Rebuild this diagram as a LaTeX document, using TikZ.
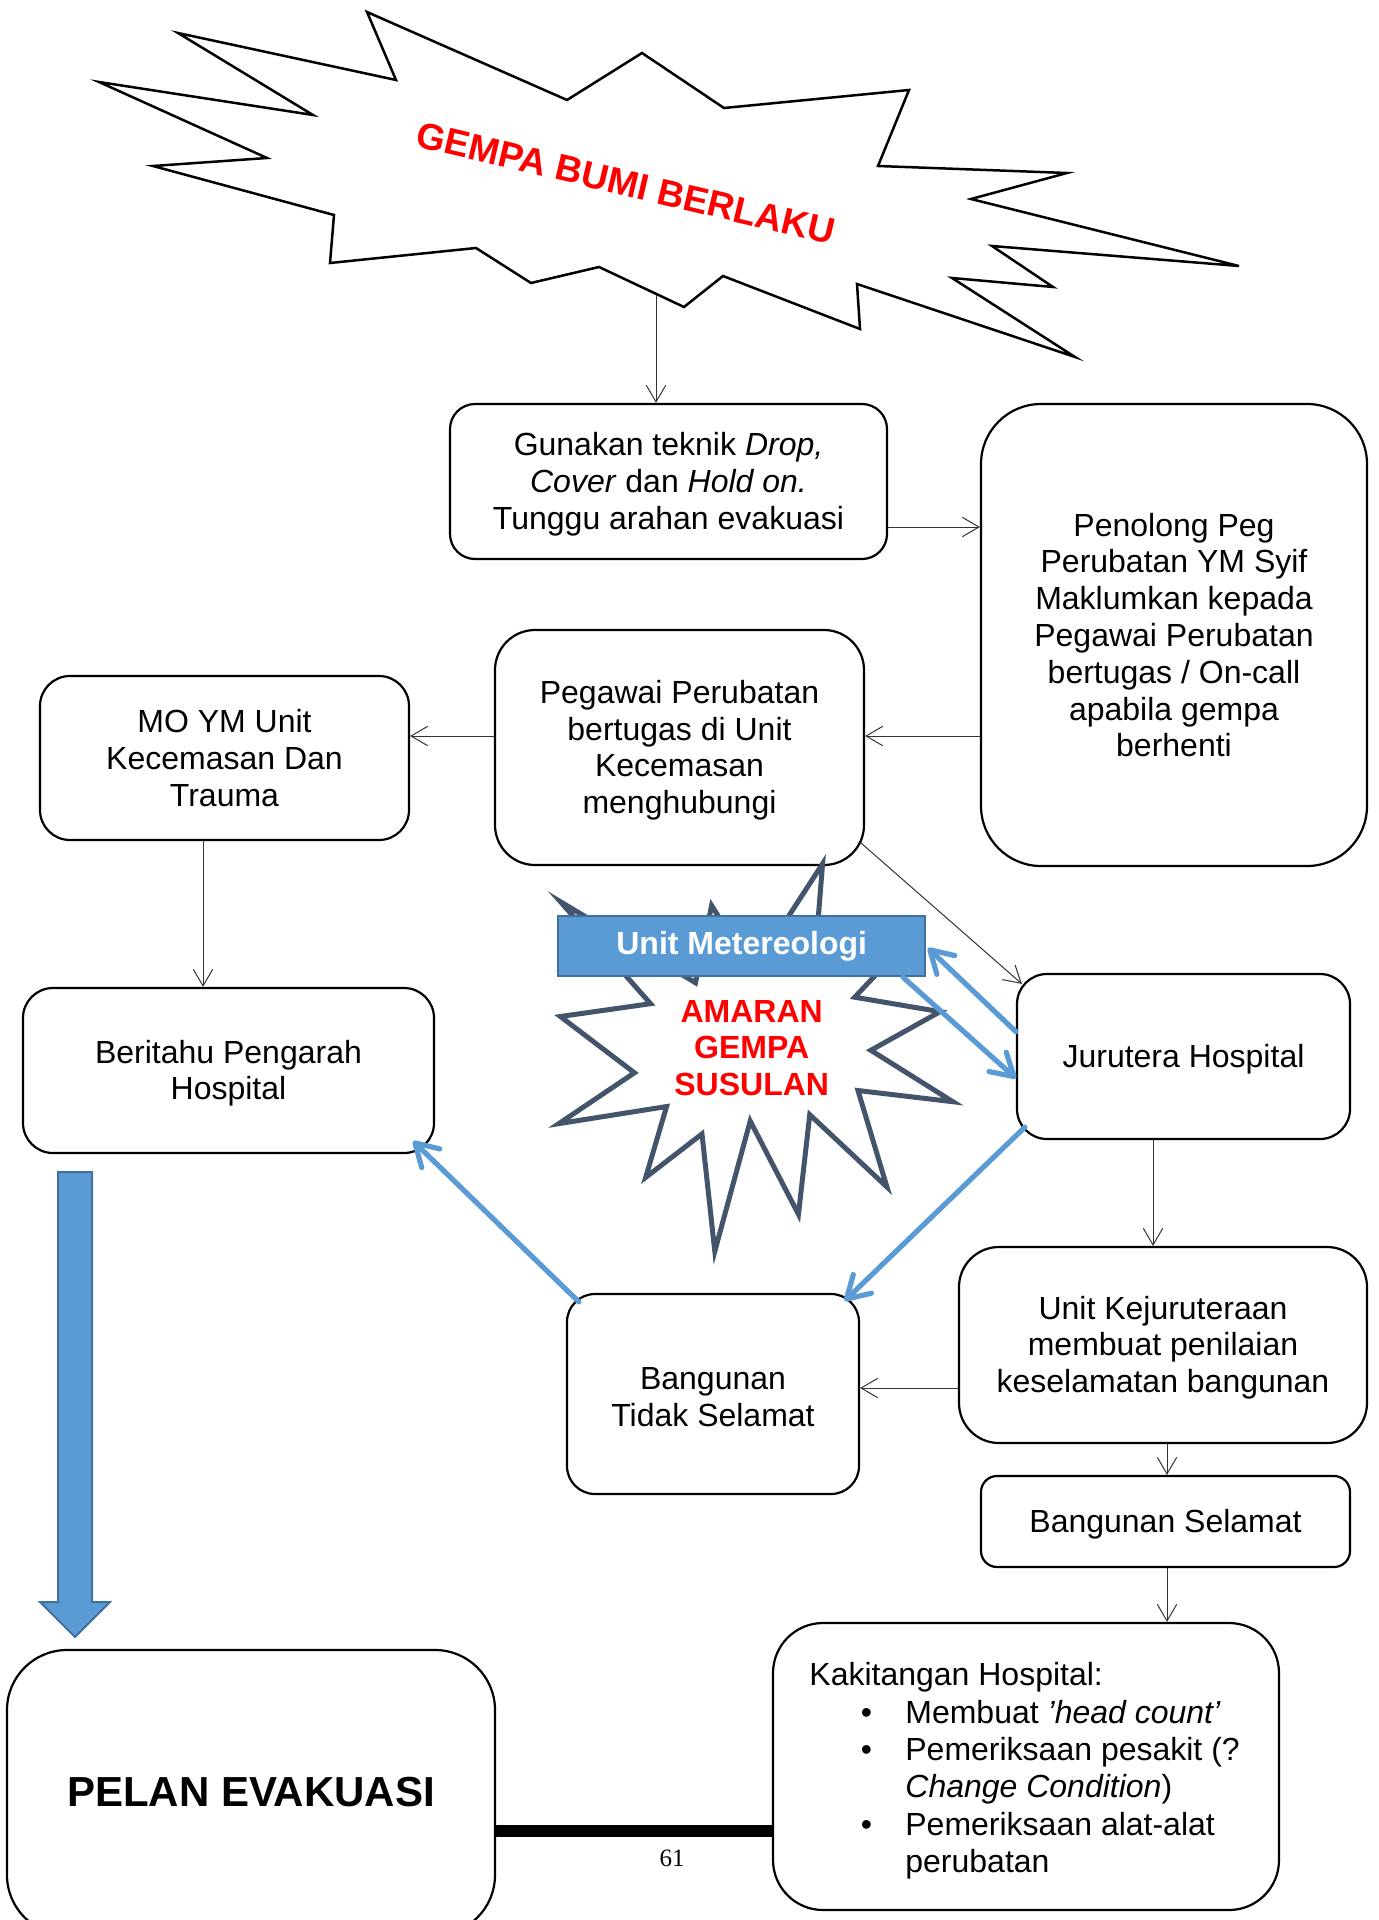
\documentclass[tikz,border=0pt]{standalone}
\usepackage{fontspec}
\setmainfont{Liberation Sans}
\newfontfamily\pagenumfont{Liberation Serif}
\usetikzlibrary{arrows.meta,calc}

\definecolor{accentblue}{HTML}{5B9BD5}
\definecolor{accentedge}{HTML}{41719C}
\definecolor{slateedge}{HTML}{44546A}
\definecolor{alertred}{HTML}{FF0000}

\newcommand\flowfont{\fontsize{16pt}{18.4pt}\selectfont}
% a taller first line sets the text slightly lower in its box
\newcommand\firstlift{\rule{0pt}{14.3pt}}

\tikzset{
  flowbox/.style={draw=black, line width=1.1pt, fill=white, align=center,
    font=\flowfont, inner sep=0pt},
  conn/.style={draw=black!80, line width=0.5pt,
    -{Straight Barb[length=8.3pt,width=9.7pt]}},
  bluelink/.style={draw=accentblue, line width=2.6pt, line cap=round,
    -{Straight Barb[length=11pt,width=13pt,round]}},
  alerttext/.style={text=alertred, font=\bfseries\fontsize{16pt}{18.3pt}\selectfont,
    align=center, inner sep=0pt},
}

\begin{document}
\begin{tikzpicture}[x=0.5pt,y=-0.5pt]
\useasboundingbox (0,0) rectangle (1378,1920);

% ---- earthquake burst -------------------------------------------------
\draw[line width=1.25pt, fill=white, line join=miter]
  (367,12) -- (396,80) -- (178,33) -- (313,115) -- (99,82) -- (267,158)
  -- (153,166) -- (334,215) -- (330,263) -- (476,248) -- (531,283)
  -- (599,267) -- (684,307) -- (723,276) -- (860,329) -- (857,284)
  -- (1075,357) -- (952,278) -- (1053,287) -- (992,246) -- (1239,266)
  -- (971,199) -- (1067,173) -- (878,166) -- (909,90) -- (724,108)
  -- (642,53) -- (567,100) -- cycle;
\node[text=alertred, font=\bfseries\fontsize{18.5pt}{22pt}\selectfont,
      rotate=-13.3, inner sep=0pt] (quaketitle) at (626,183) {GEMPA BUMI BERLAKU};
\coordinate (quakebase) at (656,295);

% ---- process boxes ----------------------------------------------------
\node[flowbox, rounded corners=12.5pt, minimum width=218.5pt, minimum height=77.5pt]
  (gunakan) at (668.5,481.5)
  {\firstlift Gunakan teknik \textit{Drop,}\\ \textit{Cover} dan \textit{Hold on.}\\ Tunggu arahan evakuasi};

\node[flowbox, rounded corners=30pt, minimum width=193pt, minimum height=231pt]
  (penolong) at (1174,635)
  {Penolong Peg\\ Perubatan YM Syif\\ Maklumkan kepada\\ Pegawai Perubatan\\
   bertugas / On-call\\ apabila gempa\\ berhenti};

\node[flowbox, rounded corners=20pt, minimum width=184.5pt, minimum height=117.5pt]
  (pegawai) at (679.5,747.5)
  {\firstlift Pegawai Perubatan\\ bertugas di Unit\\ Kecemasan\\ menghubungi};

\node[flowbox, rounded corners=15pt, minimum width=184.5pt, minimum height=82pt]
  (mo) at (224.5,758)
  {MO YM Unit\\ Kecemasan Dan\\ Trauma};

\node[flowbox, rounded corners=15pt, minimum width=205.5pt, minimum height=82.5pt]
  (beritahu) at (228.5,1070.5)
  {\firstlift Beritahu Pengarah\\ Hospital};

\node[flowbox, rounded corners=15pt, minimum width=166.5pt, minimum height=82.5pt]
  (jurutera) at (1183.5,1056.5)
  {\firstlift Jurutera Hospital};

\node[flowbox, rounded corners=20pt, minimum width=204pt, minimum height=98pt]
  (unitkej) at (1163,1345)
  {\firstlift Unit Kejuruteraan\\ membuat penilaian\\ keselamatan bangunan};

\node[flowbox, rounded corners=14pt, minimum width=146pt, minimum height=100pt]
  (tidak) at (713,1394)
  {\firstlift Bangunan\\ Tidak Selamat};

\node[flowbox, rounded corners=8pt, minimum width=184.5pt, minimum height=45.5pt]
  (selamat) at (1165.5,1521.5)
  {\firstlift Bangunan Selamat};

\node[flowbox, rounded corners=25pt, minimum width=253pt, minimum height=143.5pt]
  (staff) at (1026,1766.5) {};
\node[font=\flowfont, align=left, inner sep=0pt, anchor=north west, text depth=0pt]
  (staffnote) at (809,1662)
  {Kakitangan Hospital:\\[0.4pt]
   \hspace*{25.7pt}\makebox[22.3pt][l]{\textbullet}Membuat \textit{’head count’}\\[0.4pt]
   \hspace*{25.7pt}\makebox[22.3pt][l]{\textbullet}Pemeriksaan pesakit (?\\
   \hspace*{48pt}\textit{Change Condition})\\[0.4pt]
   \hspace*{25.7pt}\makebox[22.3pt][l]{\textbullet}Pemeriksaan alat-alat\\
   \hspace*{48pt}perubatan};

\node[flowbox, rounded corners=30pt, minimum width=244pt, minimum height=142.5pt,
      font=\bfseries\fontsize{21pt}{25pt}\selectfont]
  (pelan) at (251,1792.5) {PELAN EVAKUASI};

% ---- aftershock warning star -------------------------------------------
\begin{scope}[shift={(756,1058)}, scale=0.965, shift={(-756,-1058)}]
\draw[draw=slateedge, line width=2.5pt, fill=white, line join=miter]
  (553.3,896) -- (693.3,980) -- (710,900) -- (752.7,968.3) -- (825,856.7)
  -- (818.3,940) -- (913.3,936.7) -- (858.3,995) -- (946.7,1010)
  -- (875,1050) -- (960,1103.3) -- (861.7,1091.7) -- (891.7,1191.7)
  -- (811.7,1116.7) -- (800,1220) -- (750,1123.3) -- (713.3,1258.3)
  -- (700,1136.7) -- (641.7,1181.7) -- (663.3,1108.3) -- (551.7,1126)
  -- (630,1073.3) -- (553.3,1015) -- (646.7,1001.7) -- cycle;
\end{scope}
\node[alerttext] (amaran) at (751.7,1048) {AMARAN\\ GEMPA\\ SUSULAN};

\node[fill=accentblue, draw=accentedge, line width=1pt, minimum width=183.3pt,
      minimum height=30.2pt, inner sep=0pt, text=white,
      font=\bfseries\fontsize{16pt}{18.4pt}\selectfont]
  (metunit) at (741.7,946) {Unit Metereologi};

% ---- thin connectors ---------------------------------------------------
\draw[conn] (quakebase) -- (quakebase |- gunakan.north);
\draw[conn] (gunakan.east |- 0,527) -- (penolong.west |- 0,527);
\draw[conn] (penolong.west |- 0,736) -- (pegawai.east |- 0,736);
\draw[conn] (pegawai.west |- 0,736) -- (mo.east |- 0,736);
\draw[conn] (mo.south -| 203,0) -- (beritahu.north -| 203,0);
\draw[conn] ($(pegawai.south east)+(-4,-23)$) -- ($(jurutera.north west)+(6,11)$);
\draw[conn] (jurutera.south -| 1153,0) -- (unitkej.north -| 1153,0);
\draw[conn] (unitkej.west |- 0,1388) -- (tidak.east |- 0,1388);
\draw[conn] (unitkej.south -| 1167,0) -- (selamat.north -| 1167,0);
\draw[conn] (selamat.south -| 1167,0) -- (staff.north -| 1167,0);

% ---- blue links ----------------------------------------------------------
\draw[bluelink] (jurutera.west |- 0,1031.7) -- ($(metunit.east)+(2,2)$);
\draw[bluelink] ($(metunit.south east)+(-23,0)$) -- (jurutera.west |- 0,1078.3);
\draw[bluelink] ($(jurutera.south west)+(9,-13)$) -- ($(tidak.north east)+(-15.5,8)$);
\draw[bluelink] ($(tidak.north west)+(13,9)$) -- ($(beritahu.south east)+(-22,-13)$);

% ---- block arrow down to the evacuation plan ---------------------------
\draw[fill=accentblue, draw=accentedge, line width=1pt, line join=miter]
  (58,1172) -- (92,1172) -- (92,1602) -- (110,1602) -- (75,1637)
  -- (40,1602) -- (58,1602) -- cycle;

% ---- heavy bar joining plan and staff tasks ----------------------------
\draw[line width=6pt] (pelan.east |- 0,1831) -- (staff.west |- 0,1831);

\node[font=\pagenumfont\fontsize{12.5pt}{14pt}\selectfont, inner sep=0pt]
  (pagenum) at (672,1858) {61};

\end{tikzpicture}
\end{document}
